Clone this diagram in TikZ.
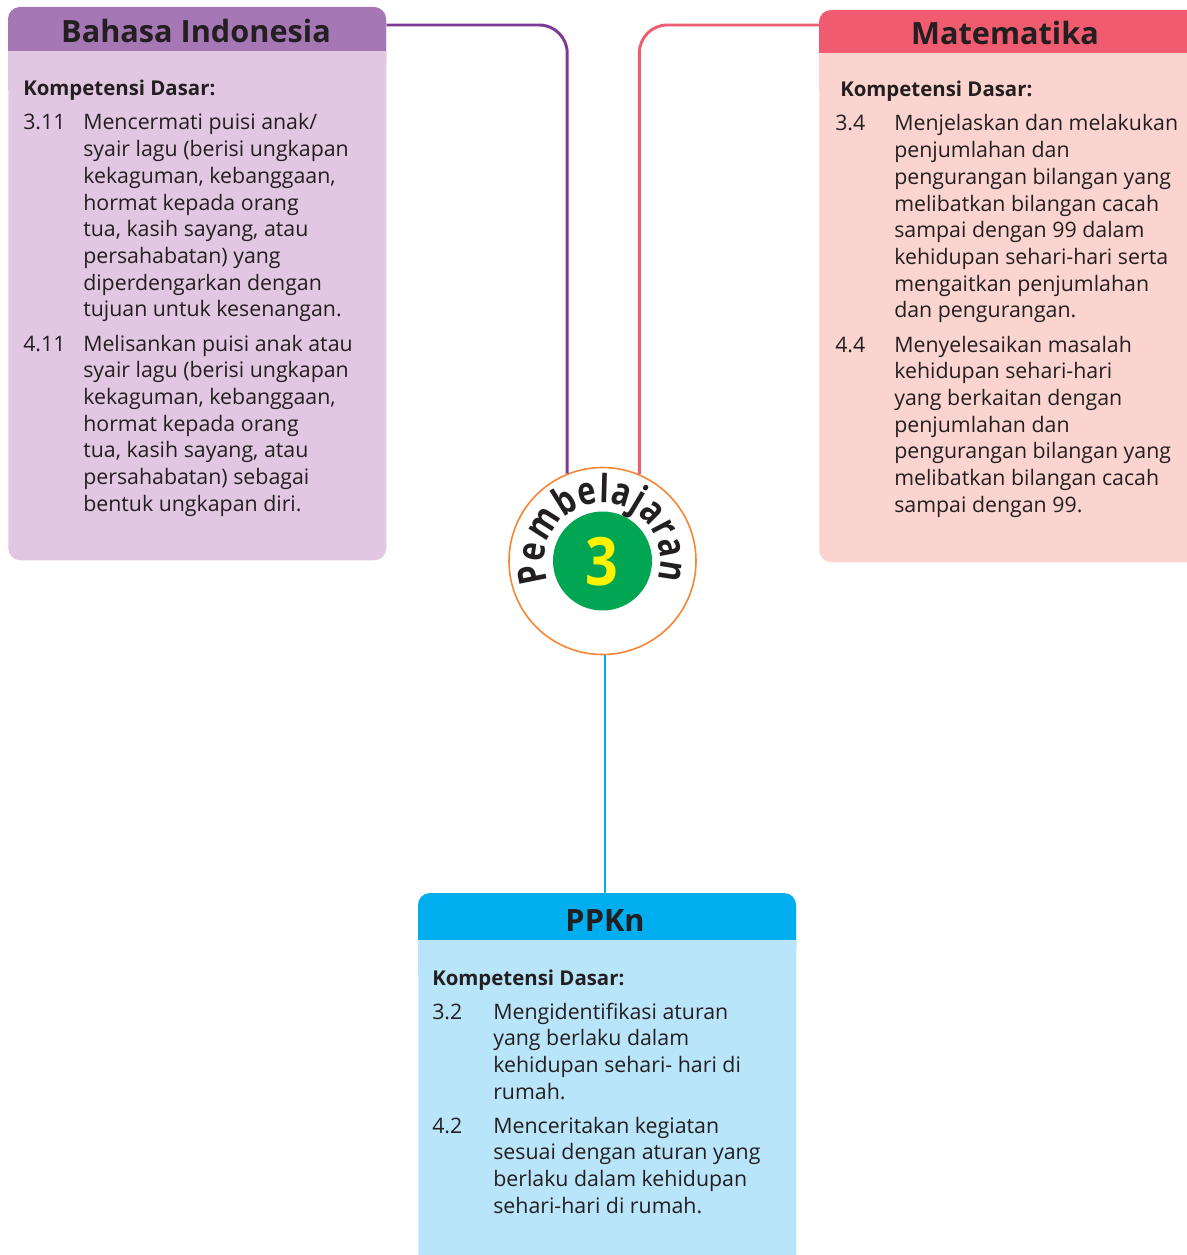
\documentclass[tikz,border=0pt]{standalone}
\usepackage{fontspec}
\setmainfont{Open Sans}
\newfontfamily\narrowfont[FakeStretch=0.86]{Open Sans}
\newfontfamily\arcfont[FakeStretch=0.8]{Open Sans}
\usetikzlibrary{decorations.text,calc}
\definecolor{ink}{HTML}{231F20}
\definecolor{bihead}{HTML}{A677B5}
\definecolor{bibody}{HTML}{E2C7E2}
\definecolor{biline}{HTML}{7E3895}
\definecolor{mthead}{HTML}{F05B70}
\definecolor{mtbody}{HTML}{FBD4D0}
\definecolor{mtline}{HTML}{EE5E73}
\definecolor{pphead}{HTML}{00AEEF}
\definecolor{ppbody}{HTML}{B9E5FA}
\definecolor{ppline}{HTML}{00AEEF}
\definecolor{ringc}{HTML}{F58634}
\definecolor{greenc}{HTML}{00A651}
\definecolor{yellowc}{HTML}{FFF200}
\begin{document}
\begin{tikzpicture}[x=0.75pt,y=-0.75pt,
  subjbox/.style={rectangle, rounded corners=9pt, anchor=north west, inner sep=0pt, minimum width={378*0.75pt}},
  titletxt/.style={anchor=base, inner sep=0pt, text=ink, font=\fontsize{23}{26}\selectfont\bfseries},
  kdtxt/.style={anchor=base west, inner sep=0pt, text=ink, font=\fontsize{15.3}{18}\selectfont\bfseries},
  bodytxt/.style={anchor=base west, inner sep=0pt, text=ink, font=\fontsize{16}{20}\selectfont},
  conn/.style={line width=2.2pt, rounded corners=21pt}]
\useasboundingbox (0,0) rectangle (1187,1255);
\clip (0,0) rectangle (1187,1255);

% ---------- Bahasa Indonesia ----------
\node[subjbox, fill=bibody, minimum height={553*0.75pt}] (bi) at (8,7) {};
\fill[bihead, rounded corners=9pt] (8,7) rectangle (386,75);
\fill[bibody] (8,51) rectangle (386,90);
\node[titletxt] (bit) at (196,43) {Bahasa Indonesia};
\node[kdtxt] (bik) at (23,96) {Kompetensi Dasar:};
\node[bodytxt] (bin1) at (23,130) {3.11};
\foreach \t [count=\i from 0] in {{Mencermati puisi anak/},{syair lagu (berisi ungkapan},{kekaguman, kebanggaan,},{hormat kepada orang},{tua, kasih sayang, atau},{persahabatan) yang},{diperdengarkan dengan},{tujuan untuk kesenangan.}}
  \node[bodytxt] (bia\i) at (83,{130+26.7*\i}) {\t};
\node[bodytxt] (bin2) at (23,351) {4.11};
\foreach \t [count=\i from 0] in {{Melisankan puisi anak atau},{syair lagu (berisi ungkapan},{kekaguman, kebanggaan,},{hormat kepada orang},{tua, kasih sayang, atau},{persahabatan) sebagai},{bentuk ungkapan diri.}}
  \node[bodytxt] (bib\i) at (83,{351+26.7*\i}) {\t};

% ---------- Matematika ----------
\node[subjbox, fill=mtbody, minimum width={420*0.75pt}, minimum height={552*0.75pt}] (mt) at (819,10) {};
\fill[mthead, rounded corners=9pt] (819,10) rectangle (1240,75);
\fill[mtbody] (819,53) rectangle (1240,90);
\node[titletxt] (mtt) at (1005,45) {Matematika};
\node[kdtxt] (mtk) at (840,97) {Kompetensi Dasar:};
\node[bodytxt] (mtn1) at (835,131) {3.4};
\foreach \t [count=\i from 0] in {{Menjelaskan dan melakukan},{penjumlahan dan},{pengurangan bilangan yang},{melibatkan bilangan cacah},{sampai dengan 99 dalam},{kehidupan sehari-hari serta},{mengaitkan penjumlahan},{dan pengurangan.}}
  \node[bodytxt] (mta\i) at (894,{131+26.7*\i}) {\t};
\node[bodytxt] (mtn2) at (835,352) {4.4};
\foreach \t [count=\i from 0] in {{Menyelesaikan masalah},{kehidupan sehari-hari},{yang berkaitan dengan},{penjumlahan dan},{pengurangan bilangan yang},{melibatkan bilangan cacah},{sampai dengan 99.}}
  \node[bodytxt] (mtb\i) at (894,{352+26.7*\i}) {\t};

% ---------- PPKn ----------
\node[subjbox, fill=ppbody, minimum height={420*0.75pt}] (pp) at (418,893) {};
\fill[pphead, rounded corners=9pt] (418,893) rectangle (796,960);
\fill[ppbody] (418,940) rectangle (796,975);
\node[titletxt] (ppt) at (605,931) {PPKn};
\node[kdtxt] (ppk) at (432,985) {Kompetensi Dasar:};
\node[bodytxt] (ppn1) at (432,1019) {3.2};
\foreach \t [count=\i from 0] in {{Mengidentifikasi aturan},{yang berlaku dalam},{kehidupan sehari- hari di},{rumah.}}
  \node[bodytxt] (ppa\i) at (493,{1019+26.7*\i}) {\t};
\node[bodytxt] (ppn2) at (432,1133) {4.2};
\foreach \t [count=\i from 0] in {{Menceritakan kegiatan},{sesuai dengan aturan yang},{berlaku dalam kehidupan},{sehari-hari di rumah.}}
  \node[bodytxt] (ppb\i) at (493,{1133+26.7*\i}) {\t};

% ---------- centre ----------
\node[circle, draw=ringc, line width=1.2pt, fill=white, minimum size={187*0.75pt}, inner sep=0pt] (circ) at (602.5,561) {};
\node[circle, fill=greenc, minimum size={99*0.75pt}, inner sep=0pt] (green) at (602.5,561) {};
\node[inner sep=0pt, text=yellowc, font=\narrowfont\fontsize{50}{50}\selectfont\bfseries] (num) at (602,562) {3};
\begin{scope}[shift={(circ.center)}, x=0.75pt, y=0.75pt]
  \path[decorate, decoration={text along path, text align=fit to path,
     text={|\arcfont\fontsize{29}{29}\selectfont\bfseries\color{ink}|Pembelajaran}}]
     (201:58) arc[start angle=201, end angle=-19, radius=58];
\end{scope}

% ---------- connectors ----------
\draw[conn, biline] (circ.112.8) |- ($(bi.north east)+(0,18)$);
\draw[conn, mtline] (circ.67.2) |- ($(mt.north west)+(0,15)$);
\draw[line width=2.2pt, ppline] ($(circ.south)+(2.5,0)$) -- ($(circ.south |- pp.north)+(2.5,0)$);
\end{tikzpicture}
\end{document}
